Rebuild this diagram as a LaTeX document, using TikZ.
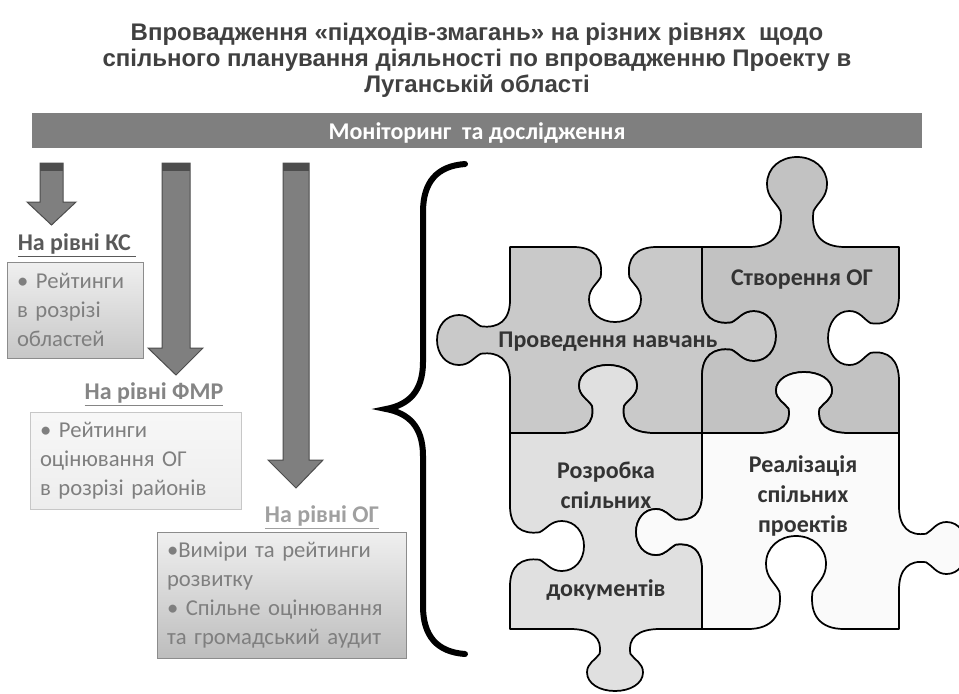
\documentclass[tikz,border=0pt]{standalone}
\usepackage{fontspec}
\setmainfont{Carlito}
\newfontfamily\headfont{Liberation Sans}

\definecolor{headgray}{HTML}{404040}
\definecolor{bargray}{HTML}{7F7F7F}
\definecolor{arrowgray}{HTML}{7F7F7F}
\definecolor{arrowline}{HTML}{4D4D4D}
\definecolor{txtgray}{HTML}{7F7F7F}
\definecolor{lvlA}{HTML}{595959}
\definecolor{lvlB}{HTML}{858585}
\definecolor{lvlC}{HTML}{A0A0A0}
\definecolor{pieceA}{HTML}{C9C9C9}
\definecolor{pieceB}{HTML}{C2C2C2}
\definecolor{pieceC}{HTML}{E0E0E0}
\definecolor{pieceD}{HTML}{FAFAFA}
\definecolor{piecetxt}{HTML}{333333}

% jigsaw tab on a horizontal edge: centre x, y, direction, side, half width, length
\newcommand\tabH[6]{%
 -- ({#1+(#3)*(-1.6*#5)},{#2})
 .. controls ({#1+(#3)*(-0.8*#5)},{#2}) and ({#1+(#3)*(-0.45*#5)},{#2+(#4)*0.15*#6}) .. ({#1+(#3)*(-0.55*#5)},{#2+(#4)*0.4*#6})
 .. controls ({#1+(#3)*(-0.7*#5)},{#2+(#4)*0.5*#6}) and ({#1+(#3)*(-1.0*#5)},{#2+(#4)*0.55*#6}) .. ({#1+(#3)*(-1.0*#5)},{#2+(#4)*0.7*#6})
 .. controls ({#1+(#3)*(-1.0*#5)},{#2+(#4)*0.88*#6}) and ({#1+(#3)*(-0.55*#5)},{#2+(#4)*#6}) .. ({#1},{#2+(#4)*#6})
 .. controls ({#1+(#3)*(0.55*#5)},{#2+(#4)*#6}) and ({#1+(#3)*(1.0*#5)},{#2+(#4)*0.88*#6}) .. ({#1+(#3)*(1.0*#5)},{#2+(#4)*0.7*#6})
 .. controls ({#1+(#3)*(1.0*#5)},{#2+(#4)*0.55*#6}) and ({#1+(#3)*(0.7*#5)},{#2+(#4)*0.5*#6}) .. ({#1+(#3)*(0.55*#5)},{#2+(#4)*0.4*#6})
 .. controls ({#1+(#3)*(0.45*#5)},{#2+(#4)*0.15*#6}) and ({#1+(#3)*(0.8*#5)},{#2}) .. ({#1+(#3)*(1.6*#5)},{#2})}
% same on a vertical edge: x, centre y, direction, side, half width, length
\newcommand\tabV[6]{%
 -- ({#1},{#2+(#3)*(-1.6*#5)})
 .. controls ({#1},{#2+(#3)*(-0.8*#5)}) and ({#1+(#4)*0.15*#6},{#2+(#3)*(-0.45*#5)}) .. ({#1+(#4)*0.4*#6},{#2+(#3)*(-0.55*#5)})
 .. controls ({#1+(#4)*0.5*#6},{#2+(#3)*(-0.7*#5)}) and ({#1+(#4)*0.55*#6},{#2+(#3)*(-1.0*#5)}) .. ({#1+(#4)*0.7*#6},{#2+(#3)*(-1.0*#5)})
 .. controls ({#1+(#4)*0.88*#6},{#2+(#3)*(-1.0*#5)}) and ({#1+(#4)*#6},{#2+(#3)*(-0.55*#5)}) .. ({#1+(#4)*#6},{#2})
 .. controls ({#1+(#4)*#6},{#2+(#3)*(0.55*#5)}) and ({#1+(#4)*0.88*#6},{#2+(#3)*(1.0*#5)}) .. ({#1+(#4)*0.7*#6},{#2+(#3)*(1.0*#5)})
 .. controls ({#1+(#4)*0.55*#6},{#2+(#3)*(1.0*#5)}) and ({#1+(#4)*0.5*#6},{#2+(#3)*(0.7*#5)}) .. ({#1+(#4)*0.4*#6},{#2+(#3)*(0.55*#5)})
 .. controls ({#1+(#4)*0.15*#6},{#2+(#3)*(0.45*#5)}) and ({#1},{#2+(#3)*(0.8*#5)}) .. ({#1},{#2+(#3)*(1.6*#5)})}

\begin{document}
\begin{tikzpicture}[x=0.75pt,y=-0.75pt,
	heading/.style={font=\headfont\bfseries\fontsize{18}{19.5}\selectfont,text=headgray,align=center},
	bartext/.style={font=\bfseries\fontsize{18}{20}\selectfont,text=white},
	lvl/.style={font=\bfseries\fontsize{18}{20}\selectfont},
	infobox/.style={draw,font=\fontsize{17}{21.75}\selectfont,text=txtgray,align=left,inner xsep=7.5pt,inner ysep=0pt},
	arrowbody/.style={fill=arrowgray,draw=arrowline,line width=0.75pt},
	piece/.style={draw=black,line width=1.3pt,line join=round},
	piecetext/.style={font=\bfseries\fontsize{18}{22.5}\selectfont,text=piecetxt,align=center}]
	\useasboundingbox (0,0) rectangle (959,693);
	
	\node[heading] (head) at (477,60) {Впровадження «підходів-змагань» на різних рівнях \ щодо\\спільного планування діяльності по впровадженню Проекту в\\Луганській області};
	
	\fill[bargray] (32,113) rectangle (922,148);
	\node[bartext] (bar) at (477,133) {Моніторинг\ \ та дослідження};
	
	% block arrows
	\foreach \xa/\xb/\ha/\hb/\hy/\ty in {40/63/27/76/202/225,162/190/148/203/348/375,283/309/268/323/460/488}{
		\draw[arrowbody] (\xa,163) -- (\xb,163) -- (\xb,\hy) -- (\hb,\hy) -- ({(\xa+\xb)/2},\ty) -- (\ha,\hy) -- (\xa,\hy) -- cycle;
		\fill[arrowline] (\xa,163) rectangle (\xb,171);
	}
	
	\node[lvl,text=lvlA] (kslbl) at (77,245) {\underline{На рівні КС\ }};
	\node[infobox,top color=white!94!black,bottom color=white!78!black,draw=white!55!black,text width=87pt,minimum height=72pt] (ksbox) at (75,310) {• Рейтинги\\в розрізі\\областей};
	
	\node[lvl,text=lvlB] (fmrlbl) at (154,394) {\underline{На рівні ФМР}};
	\node[infobox,top color=white!97!black,bottom color=white!93!black,draw=white!78!black,text width=143.25pt,minimum height=72.75pt] (fmrbox) at (135.5,460.5) {• Рейтинги\\оцінювання ОГ\\в розрізі районів};
	
	\node[lvl,text=lvlC] (oglbl) at (322,517) {\underline{На рівні ОГ}};
	\node[infobox,top color=white!94!black,bottom color=white!74!black,draw=white!55!black,text width=171.75pt,minimum height=94.5pt] (ogbox) at (281.5,595) {•Виміри та рейтинги\\розвитку\\• Спільне оцінювання\\та громадський аудит};
	
	% brace
	\draw[line width=4.5pt,line cap=round] (465,164) .. controls (437,166) and (423,182) .. (423,212) -- (423,362) .. controls (423,392) and (408,405) .. (386,409) .. controls (408,413) and (423,426) .. (423,456) -- (423,606) .. controls (423,636) and (437,652) .. (465,654);
	
	% puzzle
	\draw[piece,fill=pieceA] (510,247) \tabH{615}{247}{1}{1}{26}{75} -- (702,247) \tabV{702}{336}{1}{1}{25}{74} -- (702,433) \tabH{608}{433}{-1}{-1}{29}{68} -- (510,433) \tabV{510}{340}{-1}{-1}{25}{73} -- cycle;
	\draw[piece,fill=pieceB] (702,247) \tabH{797}{247}{1}{-1}{30}{90} -- (899,247) \tabV{899}{338}{1}{-1}{27}{71} -- (899,433) \tabH{804}{433}{-1}{-1}{28}{61} -- (702,433) \tabV{702}{336}{-1}{1}{25}{74} -- cycle;
	\draw[piece,fill=pieceC] (510,433) \tabH{608}{433}{1}{-1}{29}{68} -- (702,433) \tabV{702}{532}{1}{-1}{23}{66} -- (702,629) \tabH{615}{629}{-1}{1}{28}{62} -- (510,629) \tabV{510}{546}{-1}{1}{25}{74} -- cycle;
	\draw[piece,fill=pieceD] (702,433) \tabH{804}{433}{1}{-1}{28}{61} -- (899,433) \tabV{899}{548}{1}{1}{26}{68} -- (899,629) \tabH{796}{629}{-1}{-1}{30}{93} -- (702,629) \tabV{702}{532}{-1}{-1}{23}{66} -- cycle;
	
	\node[piecetext] (navch) at (608,342) {Проведення навчань};
	\node[piecetext] (ogpc) at (802,280) {Створення ОГ};
	\node[piecetext] (docs) at (606,531) {Розробка\\спільних\\[44pt]документів};
	\node[piecetext] (proj) at (803,496) {Реалізація\\спільних\\проектів};
\end{tikzpicture}
\end{document}
